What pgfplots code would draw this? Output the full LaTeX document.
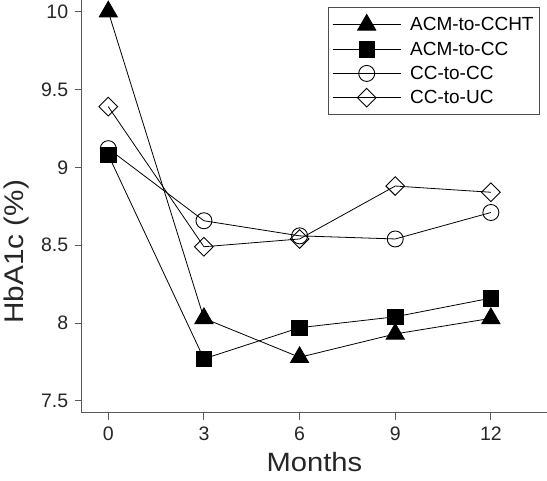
\documentclass[border=0pt]{standalone}
\usepackage{pgfplots}
\pgfplotsset{compat=1.18}
\usepackage{fontspec}
\setmainfont{Liberation Sans}
\newfontfamily\widefont[FakeStretch=1.1]{Liberation Sans}
\begin{document}
\begin{tikzpicture}
\begin{axis}[
 name=ax,
 scale only axis,
 width=465.3pt, height=412.7pt,
 xmin=-0.834, xmax=13.76,
 ymin=7.424, ymax=10.075,
 clip=false,
 axis lines=left,
 axis line style={-, line width=1pt, black!65},
 tick align=outside,
 major tick length=7pt,
 tick style={line width=1pt, black!65},
 xtick={0,3,6,9,12},
 ytick={7.5,8,8.5,9,9.5,10},
 /pgf/number format/assume math mode=true,
 ticklabel style={font=\fontsize{19.5}{24}\selectfont, text=black!85},
 yticklabel style={xshift=-3pt},
 xticklabel style={yshift=-4pt},
 xlabel={Months}, ylabel={HbA1c (\%)},
 xlabel style={at={(axis description cs:0.5,-0.1413)}, anchor=base, font=\widefont\fontsize{26.5}{32}\selectfont, text=black!85},
 ylabel style={at={(axis description cs:-0.1255,0.390)}, anchor=base, font=\widefont\fontsize{27}{32}\selectfont, text=black!85},
 every axis plot/.append style={line width=0.8pt, black},
 legend style={at={(axis description cs:1,1)}, anchor=north east, xshift=-7pt, yshift=-7pt,
   draw=black!70, line width=0.8pt, font=\fontsize{19}{22}\selectfont,
   inner xsep=4pt, inner ysep=7pt, row sep=5.5pt, cells={anchor=west},
   /tikz/every odd column/.append style={column sep=7pt}},
 legend image code/.code={\draw[mark repeat=2,mark phase=2,#1] plot coordinates {(0pt,0pt) (34pt,0pt) (68pt,0pt)};},
 reverse legend,
]
\addplot[mark=square, mark options={rotate=45, line width=0.9pt}, mark size=6.6pt]
 coordinates {(0,9.39)(3,8.49)(6,8.54)(9,8.88)(12,8.84)};
\addlegendentry{CC-to-UC}
\addplot[mark=o, mark options={line width=0.9pt}, mark size=8pt]
 coordinates {(0,9.12)(3,8.657)(6,8.56)(9,8.54)(12,8.71)};
\addlegendentry{CC-to-CC}
\addplot[mark=square*, mark options={fill=black}, mark size=7.8pt]
 coordinates {(0,9.08)(3,7.77)(6,7.97)(9,8.04)(12,8.16)};
\addlegendentry{ACM-to-CC}
\addplot[mark=triangle*, mark options={fill=black}, mark size=10.5pt]
 coordinates {(0,10.0)(3,8.03)(6,7.78)(9,7.93)(12,8.03)};
\addlegendentry{ACM-to-CCHT}
\end{axis}
\pgfresetboundingbox
\path (ax.south west) ++(-81.7pt,-67.3pt) rectangle (ax.north east);
\end{tikzpicture}
\end{document}
